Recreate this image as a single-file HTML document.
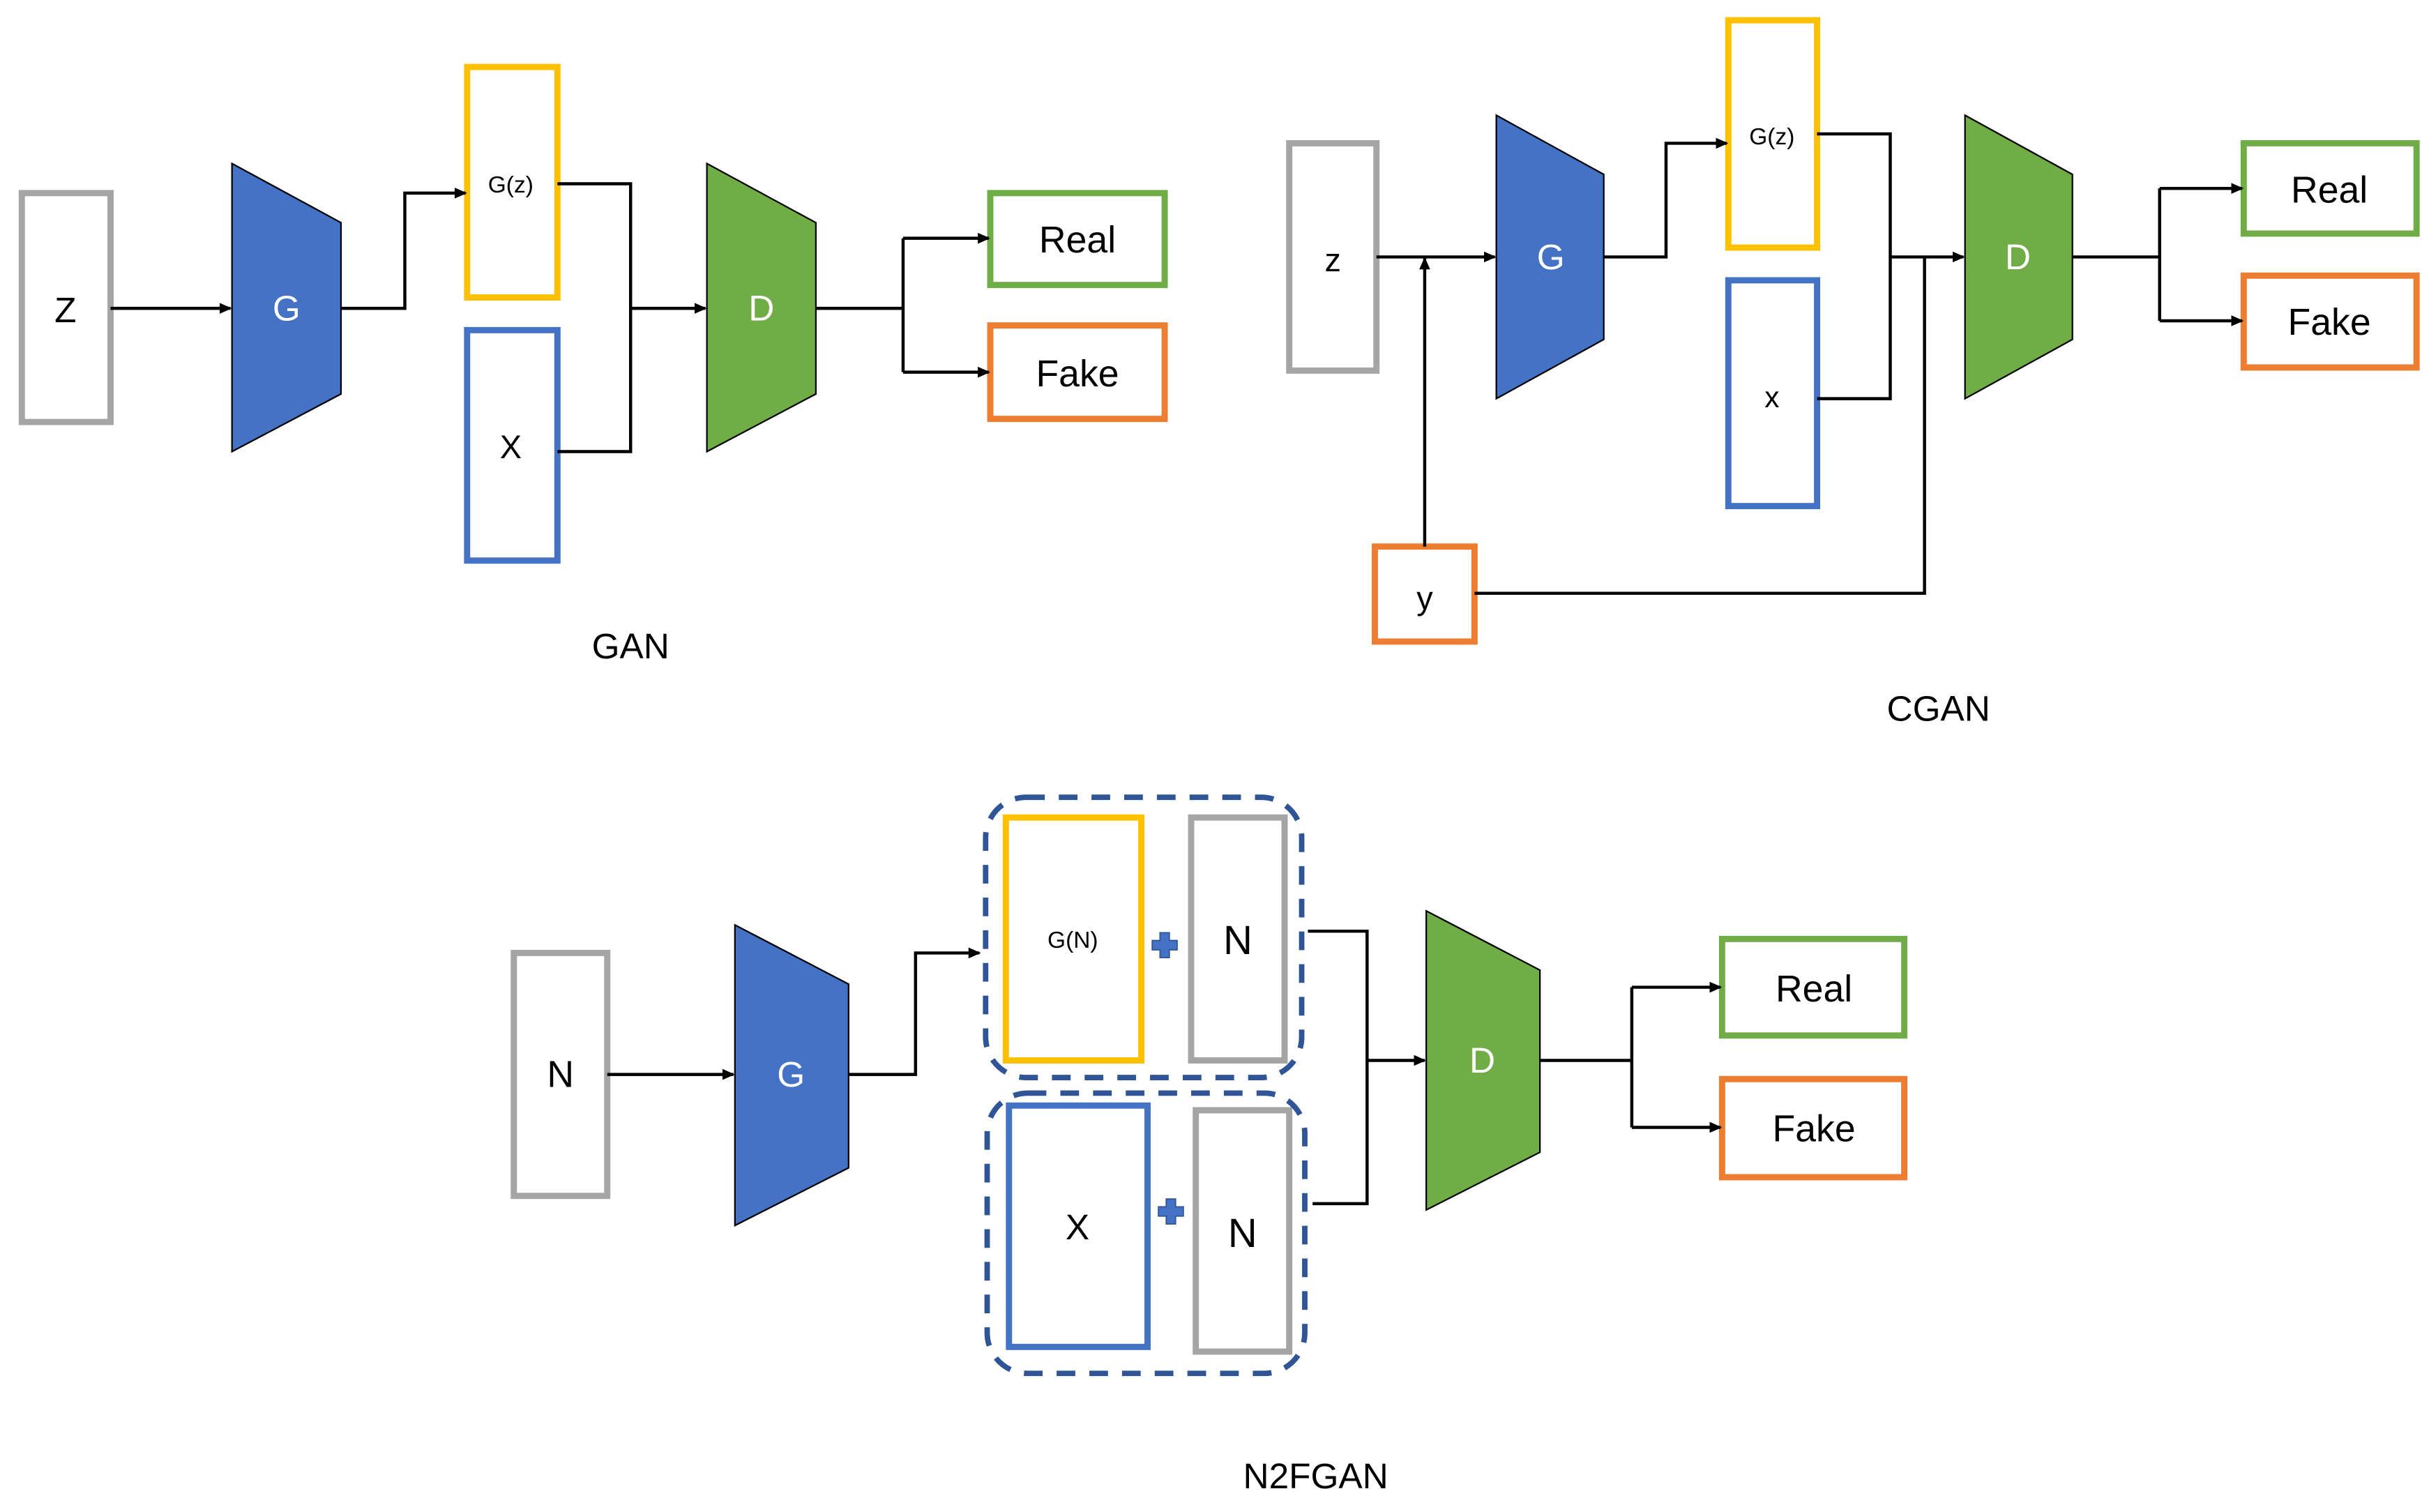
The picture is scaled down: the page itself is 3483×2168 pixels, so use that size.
<!DOCTYPE html>
<html><head><meta charset="utf-8"><style>
html,body{margin:0;padding:0;background:#fff;width:3483px;height:2168px;overflow:hidden}
svg{display:block}
text{font-family:"Liberation Sans",sans-serif;text-anchor:middle;dominant-baseline:central}
</style></head><body>
<svg width="3483" height="2168" viewBox="0 0 1560 971" xmlns="http://www.w3.org/2000/svg">
<defs><marker id="a" markerWidth="8" markerHeight="8" refX="7" refY="4" orient="auto" markerUnits="userSpaceOnUse"><path d="M0,0.5 L8,4 L0,7.5 z" fill="#000"/></marker></defs>
<g fill="none" stroke-width="4">
<rect x="14" y="124" width="57" height="147" stroke="#a5a5a5"/>
<rect x="300" y="43" width="58" height="148" stroke="#ffc000"/>
<rect x="300" y="212" width="58" height="148" stroke="#4472c4"/>
<rect x="636" y="124" width="112" height="59" stroke="#70ad47"/>
<rect x="636" y="209" width="112" height="60" stroke="#ed7d31"/>
<rect x="828" y="92" width="56" height="146" stroke="#a5a5a5"/>
<rect x="1110" y="13" width="57" height="146" stroke="#ffc000"/>
<rect x="1110" y="180" width="57" height="145" stroke="#4472c4"/>
<rect x="883" y="351" width="64" height="61" stroke="#ed7d31"/>
<rect x="1441" y="92" width="111" height="58" stroke="#70ad47"/>
<rect x="1441" y="177" width="111" height="59" stroke="#ed7d31"/>
<rect x="330" y="612" width="60" height="156" stroke="#a5a5a5"/>
<rect x="646" y="525" width="87" height="156" stroke="#ffc000"/>
<rect x="765" y="525" width="60" height="156" stroke="#a5a5a5"/>
<rect x="648" y="710" width="89" height="155" stroke="#4472c4"/>
<rect x="768" y="713" width="60" height="155" stroke="#a5a5a5"/>
<rect x="1106" y="603" width="117" height="62" stroke="#70ad47"/>
<rect x="1106" y="693" width="117" height="63" stroke="#ed7d31"/>
<rect x="633" y="512" width="203" height="180" rx="26" stroke="#2f5597" stroke-width="3.5" stroke-dasharray="12 9"/>
<rect x="634" y="702" width="204" height="180" rx="26" stroke="#2f5597" stroke-width="3.5" stroke-dasharray="12 9"/>
</g>
<g stroke="#000" stroke-width="1">
<polygon points="149,105 219,143 219,253 149,290" fill="#4472c4"/>
<polygon points="454,105 524,143 524,253 454,290" fill="#70ad47"/>
<polygon points="961,74 1030,112 1030,218 961,256" fill="#4472c4"/>
<polygon points="1262,74 1331,112 1331,218 1262,256" fill="#70ad47"/>
<polygon points="472,594 545,632 545,750 472,787" fill="#4472c4"/>
<polygon points="916,585 989,623 989,740 916,777" fill="#70ad47"/>
</g>
<g fill="none" stroke="#000" stroke-width="2">
<path d="M71,198 H148" marker-end="url(#a)"/>
<path d="M219,198 H260 V124 H299" marker-end="url(#a)"/>
<path d="M358,118 H405 V290 H358"/>
<path d="M405,198 H453" marker-end="url(#a)"/>
<path d="M524,198 H580"/>
<path d="M580,153 V239"/>
<path d="M580,153 H635" marker-end="url(#a)"/>
<path d="M580,239 H635" marker-end="url(#a)"/>
<path d="M884,165 H960" marker-end="url(#a)"/>
<path d="M915,351 V166" marker-end="url(#a)"/>
<path d="M1030,165 H1070 V92 H1109" marker-end="url(#a)"/>
<path d="M1167,86 H1214 V256 H1167"/>
<path d="M1214,165 H1261" marker-end="url(#a)"/>
<path d="M947,381 H1236 V165"/>
<path d="M1331,165 H1387"/>
<path d="M1387,121 V206"/>
<path d="M1387,121 H1440" marker-end="url(#a)"/>
<path d="M1387,206 H1440" marker-end="url(#a)"/>
<path d="M390,690 H471" marker-end="url(#a)"/>
<path d="M545,690 H588 V612 H629" marker-end="url(#a)"/>
<path d="M840,598 H878 V773 H843"/>
<path d="M878,681 H915" marker-end="url(#a)"/>
<path d="M989,681 H1048"/>
<path d="M1048,634 V724"/>
<path d="M1048,634 H1105" marker-end="url(#a)"/>
<path d="M1048,724 H1105" marker-end="url(#a)"/>
</g>
<g fill="#4472c4" stroke="#2f5597" stroke-width="0.8">
<path d="M745,599 h6 v5 h5 v6 h-5 v5 h-6 v-5 h-5 v-6 h5 z"/>
<path d="M749,770 h6 v5 h5 v6 h-5 v5 h-6 v-5 h-5 v-6 h5 z"/>
</g>
<g fill="#000">
<text x="42" y="199" font-size="23">Z</text>
<text x="328" y="119" font-size="15">G(z)</text>
<text x="328" y="287" font-size="21">X</text>
<text x="692" y="154" font-size="24">Real</text>
<text x="692" y="240" font-size="24">Fake</text>
<text x="405" y="415" font-size="23">GAN</text>
<text x="856" y="167" font-size="21">z</text>
<text x="1138" y="88" font-size="15">G(z)</text>
<text x="1138" y="255" font-size="19">x</text>
<text x="915" y="384" font-size="21">y</text>
<text x="1496" y="122" font-size="24">Real</text>
<text x="1496" y="207" font-size="24">Fake</text>
<text x="1245" y="455" font-size="23">CGAN</text>
<text x="360" y="690" font-size="24">N</text>
<text x="689" y="604" font-size="15">G(N)</text>
<text x="795" y="604" font-size="26">N</text>
<text x="692" y="788" font-size="23">X</text>
<text x="798" y="792" font-size="26">N</text>
<text x="1165" y="635" font-size="24">Real</text>
<text x="1165" y="725" font-size="24">Fake</text>
<text x="845" y="948" font-size="23">N2FGAN</text>
</g>
<g fill="#fff">
<text x="184" y="198" font-size="23">G</text>
<text x="489" y="198" font-size="23">D</text>
<text x="996" y="165" font-size="23">G</text>
<text x="1296" y="165" font-size="23">D</text>
<text x="508" y="690" font-size="23">G</text>
<text x="952" y="681" font-size="23">D</text>
</g>
</svg>
</body></html>
